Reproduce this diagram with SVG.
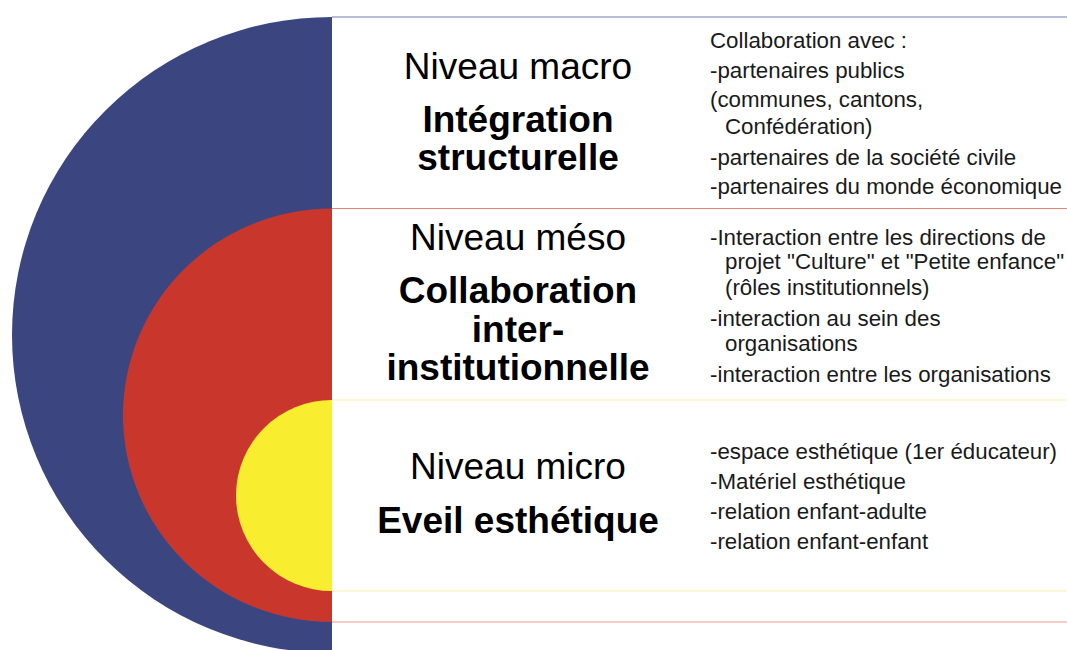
<svg xmlns="http://www.w3.org/2000/svg" width="1067" height="650" viewBox="0 0 1067 650">
<style>
.t{font-family:"Liberation Sans",Arial,sans-serif;font-size:37px;fill:#000;text-anchor:middle}
.b{font-weight:bold}
.d{font-family:"Liberation Sans",Arial,sans-serif;font-size:22.3px;fill:#1a1a1a}
</style>
<rect width="1067" height="650" fill="#fff"/>
<g id="shapes">
<path d="M332,17 A320,318 0 0 0 332,653 Z" fill="#3b4681"/>
<path d="M332,208.5 A209,206.75 0 0 0 332,622 Z" fill="#c9372c"/>
<path d="M332,400 A96,95.5 0 0 0 332,591 Z" fill="#f8ee2f"/>
</g>
<g id="separators" stroke-width="1.2">
<line x1="332" y1="17" x2="1067" y2="17" stroke="#6f7bb3"/>
<line x1="332" y1="208.5" x2="1067" y2="208.5" stroke="#e8847c"/>
<line x1="332" y1="400" x2="1067" y2="400" stroke="#f6f0a6"/>
<line x1="332" y1="591" x2="1067" y2="591" stroke="#f6f0a6"/>
<line x1="332" y1="622" x2="1067" y2="622" stroke="#eb9a94"/>
</g>
<g id="macro">
<text class="t" x="518" y="79">Niveau macro</text>
<text class="t b" x="518" y="132">Intégration</text>
<text class="t b" x="518" y="170">structurelle</text>
<text class="d" x="710" y="48">Collaboration avec :</text>
<text class="d" x="710" y="78">-partenaires publics</text>
<text class="d" x="710" y="107">(communes, cantons,</text>
<text class="d" x="725" y="134">Confédération)</text>
<text class="d" x="710" y="165">-partenaires de la société civile</text>
<text class="d" x="710" y="194">-partenaires du monde économique</text>
</g>
<g id="meso">
<text class="t" x="518" y="250">Niveau méso</text>
<text class="t b" x="518" y="303">Collaboration</text>
<text class="t b" x="518" y="342">inter-</text>
<text class="t b" x="518" y="380">institutionnelle</text>
<text class="d" x="710" y="245">-Interaction entre les directions de</text>
<text class="d" x="725" y="269">projet "Culture" et "Petite enfance"</text>
<text class="d" x="725" y="295">(rôles institutionnels)</text>
<text class="d" x="710" y="326">-interaction au sein des</text>
<text class="d" x="725" y="351">organisations</text>
<text class="d" x="710" y="382">-interaction entre les organisations</text>
</g>
<g id="micro">
<text class="t" x="518" y="479">Niveau micro</text>
<text class="t b" x="518" y="533">Eveil esthétique</text>
<text class="d" x="710" y="459">-espace esthétique (1er éducateur)</text>
<text class="d" x="710" y="489">-Matériel esthétique</text>
<text class="d" x="710" y="519">-relation enfant-adulte</text>
<text class="d" x="710" y="549">-relation enfant-enfant</text>
</g>
</svg>
